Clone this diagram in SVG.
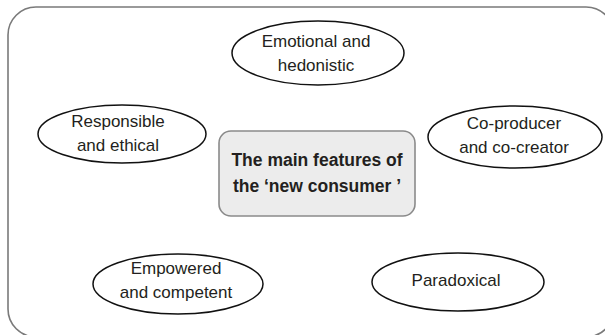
<svg xmlns="http://www.w3.org/2000/svg" width="605" height="335" viewBox="0 0 605 335">
<style>
.frame{fill:#fff;stroke:#7a7a7a;stroke-width:1.6}
.ell{fill:#fff;stroke:#111;stroke-width:1.5}
.core{fill:#ececec;stroke:#8a8a8a;stroke-width:1.6}
.t{font-family:"Liberation Sans",Arial,sans-serif;font-size:17px;fill:#231f20;text-anchor:middle}
.b{font-family:"Liberation Sans",Arial,sans-serif;font-size:17.5px;font-weight:bold;fill:#231f20;text-anchor:middle}
</style>
<rect class="frame" x="8" y="7" width="606" height="330" rx="28"/>
<g id="connectors"></g>
<g id="center">
<rect class="core" x="219" y="131" width="196" height="85" rx="12"/>
<text class="b" x="317" y="166">The main features of</text>
<text class="b" x="317" y="192">the ‘new consumer ’</text>
</g>
<g id="emotional">
<ellipse class="ell" cx="318" cy="53" rx="86" ry="32"/>
<text class="t" x="316" y="47">Emotional and</text>
<text class="t" x="316" y="71">hedonistic</text>
</g>
<g id="responsible">
<ellipse class="ell" cx="122" cy="134" rx="84" ry="29"/>
<text class="t" x="118" y="127">Responsible</text>
<text class="t" x="118" y="151">and ethical</text>
</g>
<g id="coproducer">
<ellipse class="ell" cx="515" cy="137" rx="87" ry="31"/>
<text class="t" x="514" y="129">Co-producer</text>
<text class="t" x="514" y="153">and co-creator</text>
</g>
<g id="empowered">
<ellipse class="ell" cx="178" cy="284" rx="85" ry="30"/>
<text class="t" x="176" y="274">Empowered</text>
<text class="t" x="176" y="298">and competent</text>
</g>
<g id="paradoxical">
<ellipse class="ell" cx="458" cy="282" rx="86" ry="29"/>
<text class="t" x="456" y="286">Paradoxical</text>
</g>
</svg>
